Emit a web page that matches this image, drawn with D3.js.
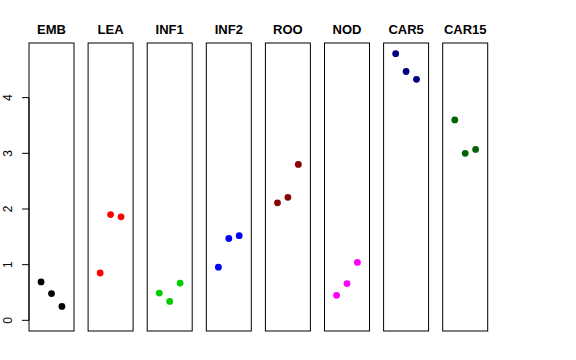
<!DOCTYPE html>
<html><head><meta charset="utf-8">
<script src="https://cdn.jsdelivr.net/npm/d3@7"></script>
<style>body{margin:0;background:#fff}svg{display:block}text{font-family:"Liberation Sans",Arial,sans-serif}</style>
</head><body>
<svg id="c" width="576" height="360"></svg>
<script>
const categories = ["EMB","LEA","INF1","INF2","ROO","NOD","CAR5","CAR15"];
const colors = ["#000000","#FF0000","#00CD00","#0000FF","#8B0000","#FF00FF","#000080","#006400"];
const seriesValues = [
  [0.69, 0.48, 0.25],
  [0.85, 1.90, 1.86],
  [0.49, 0.34, 0.67],
  [0.955, 1.47, 1.52],
  [2.11, 2.21, 2.80],
  [0.45, 0.66, 1.04],
  [4.79, 4.47, 4.33],
  [3.60, 3.00, 3.07]
];
const yTicks = [0,1,2,3,4];

(function(){
const svg = d3.select("#c");
const pTop = 43, pBottom = 331, left0 = 29, pw = 45, step = 59.1;
const ymax = d3.max(seriesValues.flat());
const ext = 0.04*ymax;
const y = d3.scaleLinear().domain([0-ext, ymax+ext]).range([pBottom, pTop]);

categories.forEach((cat,i)=>{
  const x0 = left0 + i*step;
  const x = d3.scaleLinear().domain([-0.16, 4.16]).range([x0, x0+pw]);
  const g = svg.append("g");
  g.append("rect").attr("x",x0).attr("y",pTop).attr("width",pw).attr("height",pBottom-pTop)
    .attr("fill","none").attr("stroke","#000").attr("stroke-width",1);
  g.append("text").attr("x",x0+pw/2).attr("y",34).attr("text-anchor","middle")
    .attr("font-size",13).attr("font-weight","bold").text(cat);
  g.selectAll("circle").data(seriesValues[i]).join("circle")
    .attr("cx",(d,j)=>x(j+1)).attr("cy",d=>y(d)).attr("r",3.4).attr("fill",colors[i]);
});

const ax = svg.append("g");
ax.append("line").attr("x1",left0).attr("x2",left0).attr("y1",y(0)).attr("y2",y(4)).attr("stroke","#000");
yTicks.forEach(t=>{
  ax.append("line").attr("x1",left0-7).attr("x2",left0).attr("y1",y(t)).attr("y2",y(t)).attr("stroke","#000");
  ax.append("text").attr("transform",`translate(12,${y(t)}) rotate(-90)`).attr("text-anchor","middle")
    .attr("font-size",12).text(t);
});
})();
</script>
</body></html>
